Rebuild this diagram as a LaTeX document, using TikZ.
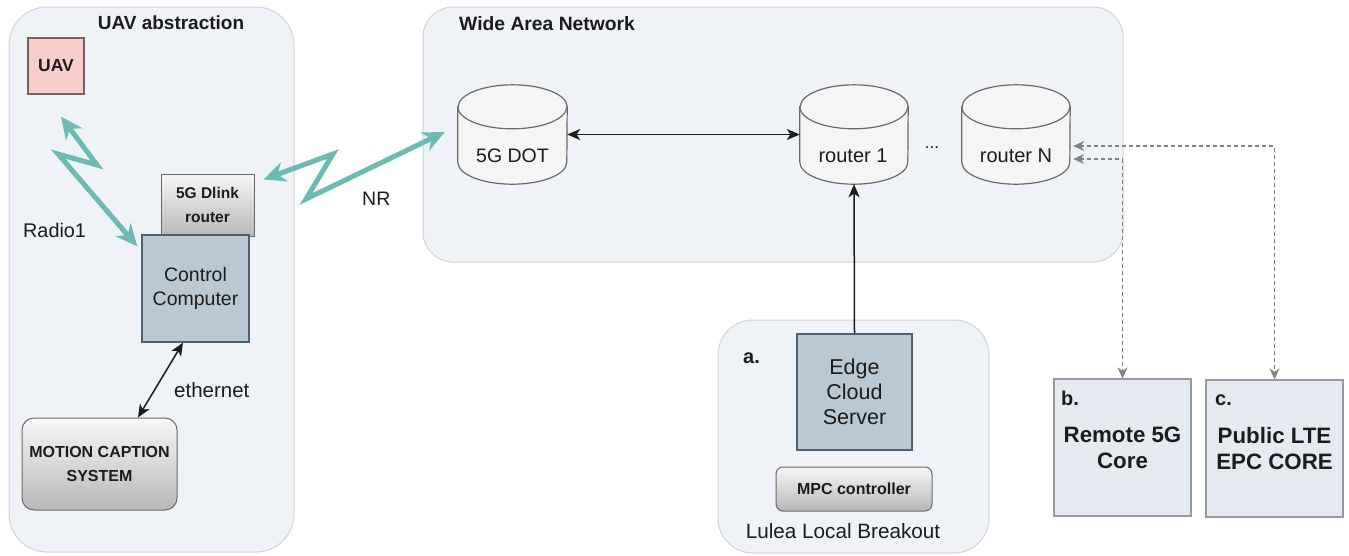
\documentclass[tikz,border=0pt]{standalone}
\usepackage{fontspec}
\setmainfont{Liberation Sans}
\usetikzlibrary{arrows.meta,calc}

\definecolor{ink}{RGB}{28,28,28}
\definecolor{groupfill}{RGB}{239,242,246}
\definecolor{groupline}{RGB}{208,212,217}
\definecolor{wave}{RGB}{108,186,180}
\definecolor{slatefill}{RGB}{186,200,211}
\definecolor{slateline}{RGB}{75,98,118}
\definecolor{corefill}{RGB}{229,234,240}
\definecolor{coreline}{RGB}{150,155,160}
\definecolor{uavfill}{RGB}{248,206,204}
\definecolor{uavline}{RGB}{120,96,96}
\definecolor{drumfill}{RGB}{245,245,245}
\definecolor{drumline}{RGB}{105,105,105}
\definecolor{dashgray}{RGB}{130,130,130}

\newcommand{\fsz}[2]{\fontsize{#1}{#2}\selectfont}

% vertical drum (database cylinder) drawn over an invisible named node
\newcommand{\drawdrum}[2]{%
  \path[drum] ($(#1.north west)+(0,-22)$) -- ($(#1.south west)+(0,22)$)
    arc[start angle=180,end angle=360,x radius=#2,y radius=22pt]
    -- ($(#1.north east)+(0,-22)$)
    arc[start angle=0,end angle=180,x radius=#2,y radius=22pt] -- cycle;
  \draw[drum] ($(#1.north west)+(0,-22)$)
    arc[start angle=180,end angle=360,x radius=#2,y radius=22pt];
}

\begin{document}
\begin{tikzpicture}[x=1pt,y=1pt,
  every node/.style={text=ink, inner sep=0pt},
  group/.style={draw=groupline, fill=groupfill, line width=1pt, rounded corners=#1},
  slatebox/.style={draw=slateline, fill=slatefill, line width=1.2pt, align=center},
  corebox/.style={draw=coreline, fill=corefill, line width=1.2pt, align=center,
    minimum width=137pt, minimum height=137pt, font=\bfseries\fsz{22.3}{26}},
  greybox/.style={draw=drumline, top color=white!97!black, bottom color=black!28,
    line width=1pt, align=center, font=\bfseries\fsz{16}{24}},
  drum/.style={draw=drumline, fill=drumfill, line width=1.2pt},
  drumslot/.style={minimum width=#1, minimum height=99pt},
  wavelink/.style={draw=wave, line width=5pt, line join=miter, miter limit=4,
    >={Stealth[length=22pt,width=20pt,inset=7pt]}, <->},
  wire/.style={draw=ink, line width=1.5pt, >={Stealth[length=13pt,width=11pt,inset=3.5pt]}},
  dashlink/.style={draw=dashgray, line width=1.2pt, dash pattern=on 4pt off 3pt,
    >={Stealth[length=11pt,width=10pt,inset=3.5pt]}, <->},
  lbl/.style={font=\fsz{19.5}{24}},
  blbl/.style={font=\bfseries\fsz{19.5}{24}}
]
\useasboundingbox (0,0) rectangle (1349,-555);
\fill[white] (0,0) rectangle (1349,-555);

% ---- containers
\node[group=38pt, minimum width=285pt, minimum height=545pt] (uavgrp) at (151.5,-279.5) {};
\node[group=30pt, minimum width=700pt, minimum height=255pt] (wan) at (773,-134.5) {};
\node[group=35pt, minimum width=271pt, minimum height=233pt] (lulea) at (853.5,-436.5) {};

\node[blbl, font=\bfseries\fsz{19}{24}, anchor=base] (uavtitle) at (171,-29) {UAV abstraction};
\node[blbl, font=\bfseries\fsz{19.3}{24}, anchor=base west] (wantitle) at (459,-30) {Wide Area Network};

% ---- UAV side
\node[draw=uavline, fill=uavfill, line width=1.2pt, minimum width=56pt, minimum height=56pt,
  font=\bfseries\fsz{17.5}{20}] (uav) at (56,-66) {UAV};
\node[greybox, font=\bfseries\fsz{15.5}{24}, minimum width=93pt, minimum height=62pt] (dlink) at (207.5,-205) {5G Dlink\\router};
\node[slatebox, minimum width=107pt, minimum height=107pt, font=\fsz{19.5}{24}] (cc) at (195.5,-288.5) {Control\\Computer};
\node[greybox, rounded corners=12pt, minimum width=155pt, minimum height=92pt] (mcs) at (99.5,-464) {MOTION CAPTION\\SYSTEM};

\node[lbl, font=\fsz{19.8}{24}, anchor=base west] (radio) at (23,-237) {Radio1};
\node[lbl, anchor=base west] (nr) at (362,-205) {NR};
\node[lbl, font=\fsz{20.5}{24}, anchor=base west] (eth) at (174,-397) {ethernet};

\draw[wire, <->] ([xshift=-12.5pt]cc.south) -- ([xshift=38.5pt]mcs.north);

% ---- wide area network drums
\node[drumslot=109pt] (dot) at (512.5,-134.5) {};
\node[drumslot=108pt] (r1) at (854,-134.5) {};
\node[drumslot=108pt] (rN) at (1016,-134.5) {};
\drawdrum{dot}{54.5pt}
\drawdrum{r1}{54pt}
\drawdrum{rN}{54pt}
\node[lbl, anchor=base] (dottext) at (512.5,-162) {5G DOT};
\node[lbl, font=\fsz{20}{24}, anchor=base] (r1text) at (853,-162) {router 1};
\node[lbl, font=\fsz{20}{24}, anchor=base] (rNtext) at (1016,-162) {router N};
\node[lbl, font=\fsz{17}{20}, anchor=base] (dots) at (932,-148) {...};

\draw[wire, <->] (dot.east) -- (r1.west);

% ---- local breakout
\node[slatebox, minimum width=115pt, minimum height=116pt, font=\fsz{21.5}{25}] (edge) at (854.5,-392) {Edge\\Cloud\\Server};
\node[greybox, rounded corners=7pt, minimum width=156pt, minimum height=44pt] (mpc) at (854,-489) {MPC controller};
\node[blbl, font=\bfseries\fsz{20}{24}, anchor=base west] (alabel) at (743,-363) {a.};
\node[lbl, font=\fsz{20.7}{24}, anchor=base] (luleatext) at (843,-538) {Lulea Local Breakout};

\draw[wire, ->] (edge.north) -- (r1.south);

% ---- remote cores
\node[corebox] (bcore) at (1122.5,-447.5) {Remote 5G\\Core};
\node[corebox] (ccore) at (1274.5,-448.5) {Public LTE\\EPC CORE};
\node[blbl, font=\bfseries\fsz{20}{24}, anchor=base west] (blabel) at (1061,-405) {b.};
\node[blbl, font=\bfseries\fsz{20}{24}, anchor=base west] (clabel) at (1215,-405) {c.};

\coordinate (rNa) at ([shift={(3pt,-11.5pt)}]rN.east);
\coordinate (rNb) at ([shift={(3pt,-24.5pt)}]rN.east);
\draw[dashlink] (rNa) -| (ccore.north);
\draw[dashlink] (rNb) -| (bcore.north);

% ---- radio links
\draw[wavelink] ([shift={(5pt,-22pt)}]uav.south) -- (97,-165) -- (58,-154)
  -- ([shift={(-4pt,-12pt)}]cc.north west);
\draw[wavelink] ([shift={(9pt,-6pt)}]dlink.north east) -- (333,-154) -- (306,-199)
  -- ([shift={(-13pt,2.5pt)}]dot.west);

\end{tikzpicture}
\end{document}
